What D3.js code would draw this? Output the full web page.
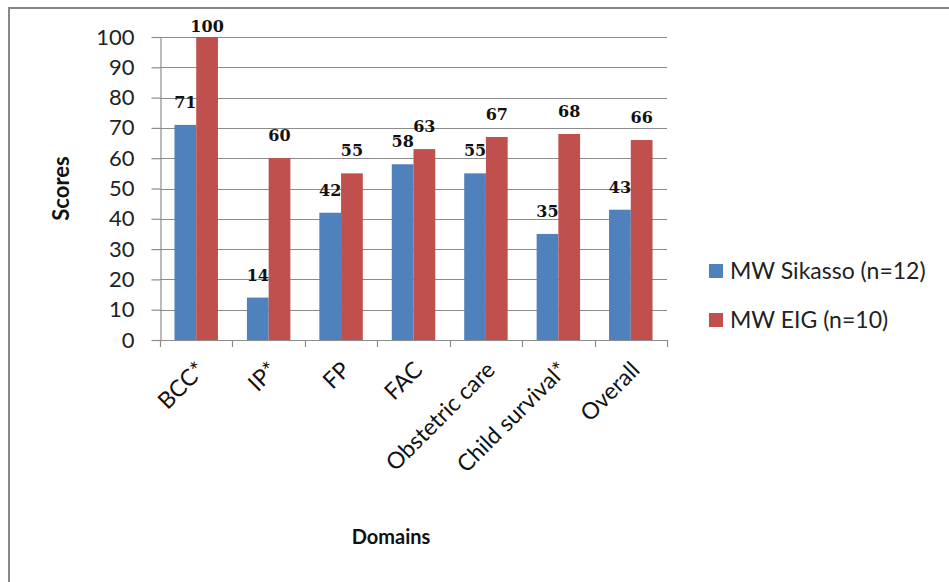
<!DOCTYPE html>
<html>
<head>
<meta charset="utf-8">
<script src="https://cdn.jsdelivr.net/npm/d3@7"></script>
<style>
  html, body { margin: 0; padding: 0; background: #fff; }
  svg { display: block; }
</style>
</head>
<body>
<svg id="chart" width="949" height="582"></svg>
<script>
// Domain scores by group
const categories = ["BCC*", "IP*", "FP", "FAC", "Obstetric care", "Child survival*", "Overall"];
const seriesNames = ["MW Sikasso (n=12)", "MW EIG (n=10)"];
const sikasso = [71, 14, 42, 58, 55, 35, 43];
const eig = [100, 60, 55, 63, 67, 68, 66];
const yTicks = [0, 10, 20, 30, 40, 50, 60, 70, 80, 90, 100];
const colors = ["#4F81BD", "#C0504D"];

const sansFont = "Lato, 'Open Sans', sans-serif";
const serifFont = "'DejaVu Serif', serif";

const rows = categories.map((c, i) => ({ cat: c, values: [sikasso[i], eig[i]] }));

const svg = d3.select("#chart");

// chart frame (left and top edges visible)
svg.append("line").attr("x1", 9).attr("x2", 9).attr("y1", 7).attr("y2", 582)
  .attr("stroke", "#878787").attr("stroke-width", 2);
svg.append("line").attr("x1", 8).attr("x2", 949).attr("y1", 8).attr("y2", 8)
  .attr("stroke", "#878787").attr("stroke-width", 2);

const plot = { left: 160, right: 667, top: 37, bottom: 340 };

const x = d3.scaleBand().domain(categories).range([plot.left, plot.right])
  .paddingInner(0.4).paddingOuter(0.2);
const xs = d3.scaleBand().domain(d3.range(seriesNames.length)).range([0, x.bandwidth()]);
const y = d3.scaleLinear().domain([0, 100]).range([plot.bottom, plot.top]);

// gridlines
svg.append("g").selectAll("line").data(yTicks.filter(t => t > 0)).join("line")
  .attr("x1", plot.left).attr("x2", plot.right)
  .attr("y1", d => Math.round(y(d)) + 0.5).attr("y2", d => Math.round(y(d)) + 0.5)
  .attr("stroke", "#8c8c8c").attr("stroke-width", 1.2);

// y axis
const yAxis = svg.append("g").attr("transform", `translate(${plot.left + 0.5},0)`)
  .call(d3.axisLeft(y).tickValues(yTicks).tickSize(9).tickPadding(17).tickSizeOuter(0));
yAxis.select(".domain").attr("stroke", "#8c8c8c").attr("stroke-width", 1.2);
yAxis.selectAll(".tick line").attr("stroke", "#8c8c8c").attr("stroke-width", 1.2);
yAxis.selectAll(".tick text").attr("font-family", sansFont).attr("font-size", 22)
  .attr("fill", "#222");

// bars
const groups = svg.append("g").selectAll("g").data(rows).join("g")
  .attr("transform", d => `translate(${x(d.cat)},0)`);
groups.selectAll("rect").data(d => d.values.map((v, i) => ({ v, i }))).join("rect")
  .attr("x", d => xs(d.i)).attr("width", xs.bandwidth())
  .attr("y", d => y(d.v)).attr("height", d => y(0) - y(d.v))
  .attr("fill", d => colors[d.i]);

// value labels
groups.selectAll("text").data(d => d.values.map((v, i) => ({ v, i }))).join("text")
  .attr("x", d => xs(d.i) + xs.bandwidth() / 2)
  .attr("y", d => Math.max(y(d.v) - 17, plot.top - 5))
  .attr("text-anchor", "middle")
  .attr("font-family", serifFont).attr("font-size", 16).attr("font-weight", "bold")
  .attr("fill", "#111")
  .text(d => d.v);

// x axis line and category ticks
const step = x.step();
const boundaries = d3.range(categories.length + 1).map(i => plot.left + i * step);
svg.append("line").attr("x1", plot.left).attr("x2", plot.right)
  .attr("y1", plot.bottom + 0.5).attr("y2", plot.bottom + 0.5)
  .attr("stroke", "#8c8c8c").attr("stroke-width", 1.2);
svg.append("g").selectAll("line").data(boundaries).join("line")
  .attr("x1", d => Math.round(d) + 0.5).attr("x2", d => Math.round(d) + 0.5)
  .attr("y1", plot.bottom).attr("y2", plot.bottom + 7)
  .attr("stroke", "#8c8c8c").attr("stroke-width", 1.2);

// rotated category labels
svg.append("g").selectAll("text").data(categories).join("text")
  .attr("transform", d => `translate(${x(d) + x.bandwidth() / 2 - 1},${plot.bottom + 20}) rotate(-45)`)
  .attr("text-anchor", "end").attr("dy", "0.7em")
  .attr("font-family", sansFont).attr("font-size", 23).attr("fill", "#111")
  .text(d => d);

// axis titles
svg.append("text")
  .attr("transform", `translate(61,${(plot.top + plot.bottom) / 2}) rotate(-90)`)
  .attr("text-anchor", "middle").attr("dy", "0.35em")
  .attr("font-family", sansFont).attr("font-size", 22).attr("font-weight", "bold")
  .attr("fill", "#111").text("Scores");
svg.append("text")
  .attr("x", 391).attr("y", 537).attr("dy", "0.35em").attr("text-anchor", "middle")
  .attr("font-family", sansFont).attr("font-size", 20).attr("font-weight", "bold")
  .attr("fill", "#111").text("Domains");

// legend
const legend = svg.append("g").selectAll("g").data(seriesNames).join("g")
  .attr("transform", (d, i) => `translate(709,${271 + i * 49})`);
legend.append("rect").attr("x", 0).attr("y", -7).attr("width", 14).attr("height", 14)
  .attr("fill", (d, i) => colors[i]);
legend.append("text").attr("x", 21).attr("dy", "0.35em")
  .attr("font-family", sansFont).attr("font-size", 23).attr("fill", "#222")
  .text(d => d);
</script>
</body>
</html>
